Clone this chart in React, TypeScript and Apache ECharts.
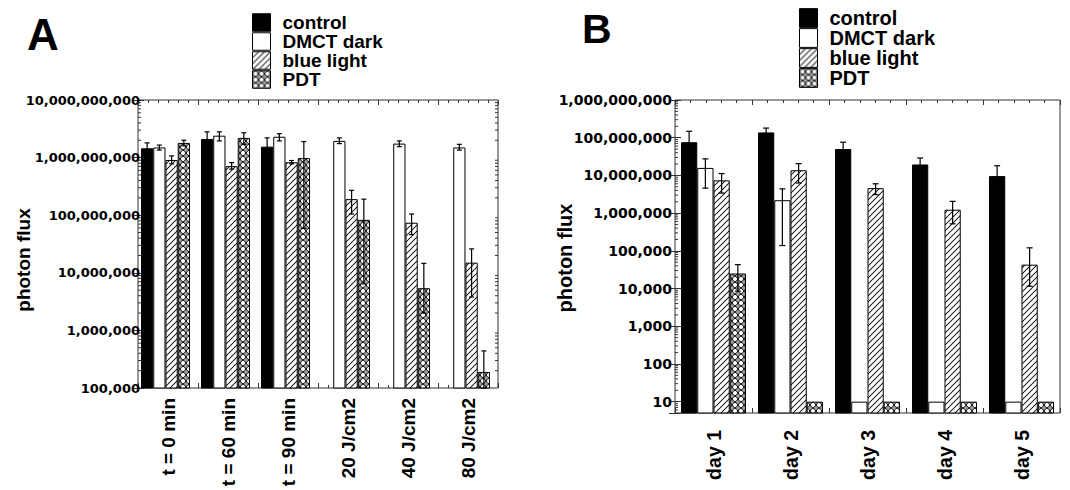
import React, { useEffect, useRef } from 'react';
import * as echarts from 'echarts';

// ---------- data ----------
const seriesNames = ['control', 'DMCT dark', 'blue light', 'PDT'];

// Panel A
const categoriesA = ['t = 0 min', 't = 60 min', 't = 90 min', '20 J/cm2', '40 J/cm2', '80 J/cm2'];
const controlA = [1.45e9, 2.1e9, 1.55e9, null, null, null];
const controlAHigh = [1.8e9, 2.8e9, 2.2e9, null, null, null];
const controlALow = [1.15e9, 1.6e9, 1.1e9, null, null, null];
const dmctA = [1.5e9, 2.4e9, 2.3e9, 1.95e9, 1.75e9, 1.5e9];
const dmctAHigh = [1.65e9, 2.8e9, 2.6e9, 2.2e9, 1.95e9, 1.7e9];
const dmctALow = [1.35e9, 1.95e9, 1.95e9, 1.75e9, 1.55e9, 1.35e9];
const blueA = [9.1e8, 7.1e8, 8.3e8, 1.9e8, 7.4e7, 1.5e7];
const blueAHigh = [1.07e9, 8.2e8, 8.9e8, 2.7e8, 1.05e8, 2.6e7];
const blueALow = [7.8e8, 6.3e8, 7.8e8, 1.05e8, 4.6e7, 3.8e6];
const pdtA = [1.8e9, 2.2e9, 9.8e8, 8.3e7, 5.4e6, 1.9e5];
const pdtAHigh = [2.0e9, 2.7e9, 1.9e9, 1.9e8, 1.46e7, 4.4e5];
const pdtALow = [1.6e9, 1.7e9, 5.9e7, 6.4e6, 2.0e6, 1.0e5];
const yMinA = 1e5;
const yMaxA = 1e10;

// Panel B
const categoriesB = ['day 1', 'day 2', 'day 3', 'day 4', 'day 5'];
const controlB = [7.6e7, 1.38e8, 5.0e7, 1.95e7, 9.6e6];
const controlBHigh = [1.48e8, 1.8e8, 7.6e7, 2.9e7, 1.8e7];
const controlBLow = [3.9e7, 1.06e8, 3.3e7, 1.3e7, 5.1e6];
const dmctB = [1.58e7, 2.2e6, 10, 10, 10];
const dmctBHigh = [2.75e7, 4.4e6, null, null, null];
const dmctBLow = [4.6e6, 1.38e5, null, null, null];
const blueB = [7.4e6, 1.37e7, 4.6e6, 1.23e6, 4.3e4];
const blueBHigh = [1.12e7, 2.05e7, 6.0e6, 2.05e6, 1.2e5];
const blueBLow = [3.4e6, 6.3e6, 3.1e6, 5.2e5, 1.15e4];
const pdtB = [2.5e4, 10, 10, 10, 10];
const pdtBHigh = [4.3e4, null, null, null, null];
const pdtBLow = [8.5e3, null, null, null, null];
const yMinB = 5;
const yMaxB = 1e9;

// ---------- helpers ----------
const FONT = "'Liberation Sans', Arial, Helvetica, sans-serif";
const TICKFONT = "'DejaVu Sans', Verdana, sans-serif";
const RES = 4;

function hatchPattern(size: number) {
  const c = document.createElement('canvas');
  c.width = size * RES;
  c.height = size * RES;
  const g = c.getContext('2d')!;
  g.scale(RES, RES);
  g.fillStyle = '#fff';
  g.fillRect(0, 0, size, size);
  g.strokeStyle = '#000';
  g.lineWidth = 0.9;
  g.beginPath();
  g.moveTo(-1, size + 1);
  g.lineTo(size + 1, -1);
  g.moveTo(-1, 1);
  g.lineTo(1, -1);
  g.moveTo(size - 1, size + 1);
  g.lineTo(size + 1, size - 1);
  g.stroke();
  return { image: c, repeat: 'repeat', imageWidth: size, imageHeight: size };
}

function circlePattern(size: number) {
  const c = document.createElement('canvas');
  c.width = size * RES;
  c.height = size * RES;
  const g = c.getContext('2d')!;
  g.scale(RES, RES);
  g.fillStyle = '#fff';
  g.fillRect(0, 0, size, size);
  g.fillStyle = '#777';
  const d = 1.2;
  [[0, 0], [size, 0], [0, size], [size, size]].forEach(([cx, cy]) => {
    g.beginPath();
    g.moveTo(cx - d, cy);
    g.lineTo(cx, cy - d);
    g.lineTo(cx + d, cy);
    g.lineTo(cx, cy + d);
    g.closePath();
    g.fill();
  });
  g.strokeStyle = '#000';
  g.lineWidth = 0.9;
  g.beginPath();
  g.arc(size / 2, size / 2, size / 2 - 0.5, 0, Math.PI * 2);
  g.stroke();
  return { image: c, repeat: 'repeat', imageWidth: size, imageHeight: size };
}

function errData(vals: (number | null)[], lo: (number | null)[], hi: (number | null)[]) {
  const out: number[][] = [];
  vals.forEach((v, i) => {
    if (v != null && lo[i] != null && hi[i] != null) out.push([i, v, lo[i] as number, hi[i] as number]);
  });
  return out;
}

function errRender(k: number, fracs: number[], cap: number) {
  const total = fracs.reduce((a, b) => a + b, 0);
  return (params: any, api: any) => {
    const ci = api.value(0);
    const c = api.coord([ci, api.value(1)]);
    const bw = api.size([1, 0])[0];
    let x = c[0] - (total * bw) / 2;
    for (let j = 0; j < k; j++) x += fracs[j] * bw;
    x += (fracs[k] * bw) / 2;
    const y1 = api.coord([ci, api.value(3)])[1];
    const y2 = api.coord([ci, api.value(2)])[1];
    const st = { stroke: '#000', lineWidth: 1.2 };
    return {
      type: 'group',
      children: [
        { type: 'line', shape: { x1: x, y1, x2: x, y2 }, style: st },
        { type: 'line', shape: { x1: x - cap, y1, x2: x + cap, y2: y1 }, style: st },
        { type: 'line', shape: { x1: x - cap, y1: y2, x2: x + cap, y2 }, style: st },
      ],
    };
  };
}

function minorTickValues(minExp: number, maxExp: number, lowest: number) {
  const out: number[][] = [];
  for (let e = minExp; e < maxExp; e++) {
    for (let m = 2; m <= 9; m++) {
      const v = m * Math.pow(10, e);
      if (v > lowest) out.push([0, v]);
    }
  }
  return out;
}

function minorTickRender(both: boolean) {
  return (params: any, api: any) => {
    const y = api.coord([0, api.value(1)])[1];
    const cs = params.coordSys;
    const st = { stroke: '#333', lineWidth: 1 };
    const children: any[] = [{ type: 'line', shape: { x1: cs.x, y1: y, x2: cs.x + 3, y2: y }, style: st }];
    if (both) children.push({ type: 'line', shape: { x1: cs.x + cs.width - 3, y1: y, x2: cs.x + cs.width, y2: y }, style: st });
    return { type: 'group', children };
  };
}

function logLabel(v: number) {
  const e = Math.log10(v);
  if (Math.abs(e - Math.round(e)) > 1e-6) return '';
  return Math.round(Math.pow(10, Math.round(e))).toLocaleString('en-US');
}

export default function App() {
  const ref = useRef<HTMLDivElement>(null);

  useEffect(() => {
    if (!ref.current) return;
    const chart = echarts.init(ref.current, undefined, { renderer: 'svg' });

    const hatch = hatchPattern(6);
    const circles = circlePattern(6);
    const colors: any[] = ['#000', '#fff', hatch, circles];

    // bar widths as fractions of band width
    const fracA = [0.204, 0.204, 0.204, 0.204, 0.084]; // 4 bars + spacer slot
    const fracB = [0.211, 0.211, 0.211, 0.211];

    const valsA = [controlA, dmctA, blueA, pdtA];
    const lowA = [controlALow, dmctALow, blueALow, pdtALow];
    const highA = [controlAHigh, dmctAHigh, blueAHigh, pdtAHigh];
    const valsB = [controlB, dmctB, blueB, pdtB];
    const lowB = [controlBLow, dmctBLow, blueBLow, pdtBLow];
    const highB = [controlBHigh, dmctBHigh, blueBHigh, pdtBHigh];

    const series: any[] = [];
    seriesNames.forEach((name, k) => {
      series.push({
        type: 'bar',
        name,
        xAxisIndex: 0,
        yAxisIndex: 0,
        data: valsA[k],
        barWidth: fracA[k] * 100 + '%',
        barGap: '0%',
        barCategoryGap: '10%',
        clip: true,
        itemStyle: { color: colors[k], borderColor: '#000', borderWidth: 1 },
        z: 2,
      });
    });
    series.push({
      type: 'bar',
      name: 'spacerA',
      xAxisIndex: 0,
      yAxisIndex: 0,
      data: categoriesA.map(() => null),
      barWidth: fracA[4] * 100 + '%',
      barGap: '0%',
      barCategoryGap: '10%',
      itemStyle: { color: 'transparent' },
    });
    seriesNames.forEach((name, k) => {
      series.push({
        type: 'bar',
        name,
        xAxisIndex: 3,
        yAxisIndex: 2,
        data: valsB[k],
        barWidth: fracB[k] * 100 + '%',
        barGap: '0%',
        barCategoryGap: '15.6%',
        clip: true,
        itemStyle: { color: colors[k], borderColor: '#000', borderWidth: 1 },
        z: 2,
      });
    });
    seriesNames.forEach((name, k) => {
      series.push({
        type: 'custom',
        name: 'errA' + k,
        xAxisIndex: 0,
        yAxisIndex: 0,
        data: errData(valsA[k], lowA[k], highA[k]),
        encode: { x: 0, y: 1 },
        renderItem: errRender(k, fracA, 2.5),
        clip: false,
        z: 4,
      });
      series.push({
        type: 'custom',
        name: 'errB' + k,
        xAxisIndex: 3,
        yAxisIndex: 2,
        data: errData(valsB[k], lowB[k], highB[k]),
        encode: { x: 0, y: 1 },
        renderItem: errRender(k, fracB, 3),
        clip: false,
        z: 4,
      });
    });
    series.push({
      type: 'custom',
      name: 'minorA',
      xAxisIndex: 0,
      yAxisIndex: 0,
      data: minorTickValues(5, 10, yMinA),
      encode: { x: 0, y: 1 },
      renderItem: minorTickRender(true),
      z: 5,
    });
    series.push({
      type: 'custom',
      name: 'minorB',
      xAxisIndex: 3,
      yAxisIndex: 2,
      data: minorTickValues(0, 9, yMinB),
      encode: { x: 0, y: 1 },
      renderItem: minorTickRender(false),
      z: 5,
    });

    const catLabel = (margin: number, pad: number, fs: number) => ({
      interval: 0,
      rotate: 90,
      margin,
      padding: [0, 0, pad, 0],
      fontFamily: FONT,
      fontWeight: 'bold',
      fontSize: fs,
      color: '#000',
    });

    const tickAxis = (grid: number, pos: string, n: number, split: number) => ({
      type: 'value',
      gridIndex: grid,
      position: pos,
      min: 0,
      max: n,
      interval: 1,
      axisLine: { show: false },
      axisLabel: { show: false },
      splitLine: { show: false },
      axisTick: { show: true, inside: true, length: 5, lineStyle: { color: '#333' } },
      minorTick: { show: true, splitNumber: split, length: 3, lineStyle: { color: '#333' } },
    });

    const logAxis = (grid: number, pos: string, min: number, max: number, labels: boolean, fontSize: number, margin: number) => ({
      type: 'log',
      logBase: 10,
      gridIndex: grid,
      position: pos,
      min,
      max,
      splitNumber: 10,
      axisLine: { show: false },
      splitLine: { show: false },
      axisTick: { show: true, inside: true, length: 6, lineStyle: { color: '#333' } },
      axisLabel: labels
        ? { show: true, formatter: logLabel, margin, fontFamily: TICKFONT, fontWeight: 'bold', fontSize, color: '#000' }
        : { show: false },
    });

    const legendBase = (left: number, top: number, h: number, fs: number) => ({
      orient: 'vertical',
      left,
      top,
      padding: 0,
      itemWidth: 18,
      itemHeight: h,
      itemGap: 0,
      icon: 'rect',
      selectedMode: false,
      data: seriesNames,
      itemStyle: { borderColor: '#000', borderWidth: 1 },
      textStyle: { fontFamily: FONT, fontWeight: 'bold', fontSize: fs, color: '#000', lineHeight: h, padding: [0, 0, 0, 7] },
    });

    chart.setOption({
      animation: false,
      backgroundColor: '#fff',
      grid: [
        { left: 138, top: 100, width: 360, height: 288, show: true, borderColor: '#333', borderWidth: 1, outerBoundsMode: 'none', containLabel: false },
        { left: 675, top: 100, width: 385, height: 313, show: true, borderColor: '#333', borderWidth: 1, outerBoundsMode: 'none', containLabel: false },
      ],
      xAxis: [
        {
          type: 'category',
          gridIndex: 0,
          position: 'bottom',
          data: categoriesA,
          axisLine: { show: false },
          axisTick: { show: false },
          splitLine: { show: false },
          axisLabel: catLabel(10, 18, 19),
        },
        tickAxis(0, 'top', 6, 6),
        tickAxis(0, 'bottom', 6, 6),
        {
          type: 'category',
          gridIndex: 1,
          position: 'bottom',
          data: categoriesB,
          axisLine: { show: false },
          axisTick: { show: false },
          splitLine: { show: false },
          axisLabel: catLabel(17, 10, 19.5),
        },
        tickAxis(1, 'top', 5, 5),
        tickAxis(1, 'bottom', 5, 5),
      ],
      yAxis: [
        logAxis(0, 'left', yMinA, yMaxA, true, 13, -2),
        logAxis(0, 'right', yMinA, yMaxA, false, 13, 0),
        logAxis(1, 'left', yMinB, yMaxB, true, 14, 3),
        logAxis(1, 'right', yMinB, yMaxB, false, 14, 0),
      ],
      legend: [legendBase(252, 13, 17.5, 19), legendBase(799, 8, 18.75, 20)],
      graphic: [
        { type: 'text', x: 27, y: 34, style: { text: 'A', fontFamily: FONT, fontWeight: 'bold', fontSize: 44, fill: '#000', align: 'left', verticalAlign: 'middle' } },
        { type: 'text', x: 582, y: 29, style: { text: 'B', fontFamily: FONT, fontWeight: 'bold', fontSize: 41, fill: '#000', align: 'left', verticalAlign: 'middle' } },
        { type: 'text', x: 23, y: 260, rotation: Math.PI / 2, style: { text: 'photon flux', fontFamily: FONT, fontWeight: 'bold', fontSize: 19, fill: '#000', align: 'center', verticalAlign: 'middle' } },
        { type: 'text', x: 565, y: 258, rotation: Math.PI / 2, style: { text: 'photon flux', fontFamily: FONT, fontWeight: 'bold', fontSize: 20, fill: '#000', align: 'center', verticalAlign: 'middle' } },
      ],
      series,
    });

    return () => chart.dispose();
  }, []);

  return <div ref={ref} style={{ position: 'fixed', left: 0, top: 0, width: 1070, height: 490 }} />;
}
